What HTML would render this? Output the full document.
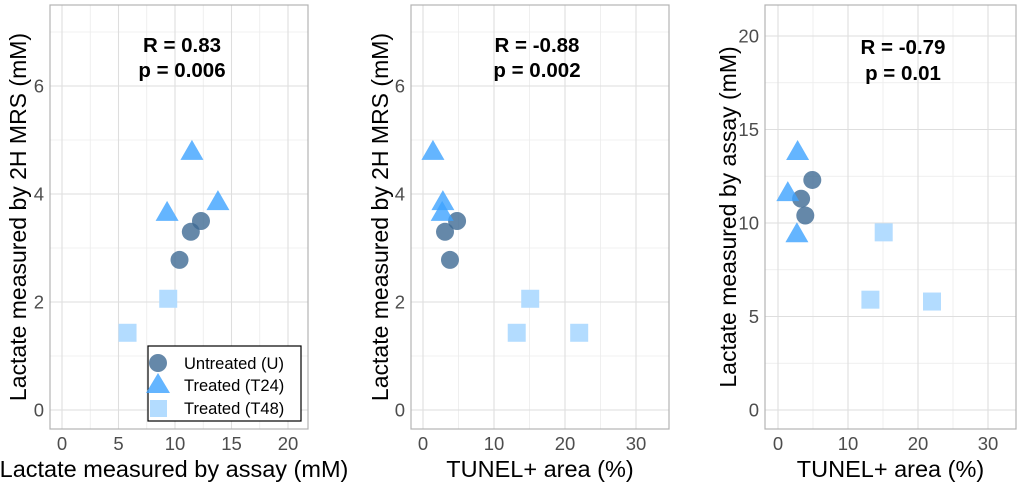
<!DOCTYPE html>
<html><head><meta charset="utf-8">
<style>
body{margin:0;background:#fff;width:1028px;height:487px;overflow:hidden;font-family:"Liberation Sans",sans-serif}
svg text{font-family:"Liberation Sans",sans-serif}
</style></head><body>
<svg id="chart" width="1028" height="487"></svg>
<script>
// Panel 1: lactate assay vs 2H MRS
const p1U_x=[10.4,11.4,12.3], p1U_y=[2.78,3.3,3.5];
const p1T24_x=[9.3,11.5,13.8], p1T24_y=[3.65,4.78,3.85];
const p1T48_x=[5.8,9.4], p1T48_y=[1.43,2.06];
// Panel 2: TUNEL vs 2H MRS
const p2U_x=[3.1,3.8,4.8], p2U_y=[3.3,2.78,3.5];
const p2T24_x=[1.4,2.8,2.7], p2T24_y=[4.78,3.85,3.65];
const p2T48_x=[13.2,15.1,22.0], p2T48_y=[1.43,2.06,1.43];
// Panel 3: TUNEL vs assay
const p3U_x=[3.3,3.9,4.9], p3U_y=[11.3,10.4,12.3];
const p3T24_x=[1.4,2.8,2.7], p3T24_y=[11.6,13.8,9.4];
const p3T48_x=[13.2,15.1,22.0], p3T48_y=[5.9,9.5,5.8];
const ticks1x=[0,5,10,15,20], ticks2x=[0,10,20,30], ticksMRS=[0,2,4,6], ticksAssay=[0,5,10,15,20];
const stats=[["R = 0.83","p = 0.006"],["R = -0.88","p = 0.002"],["R = -0.79","p = 0.01"]];

const NS="http://www.w3.org/2000/svg";
const svg=document.getElementById('chart');
function mk(tag,attrs,parent){const e=document.createElementNS(NS,tag);for(const k in attrs)e.setAttribute(k,attrs[k]);(parent||svg).appendChild(e);return e;}

const panels=[
 {L:50,R:308,T:5,B:429,x0:62,xs:11.3,y0:410,ys:54,xt:ticks1x,xm:[2.5,7.5,12.5,17.5],yt:ticksMRS,ym:[1,3,5,7],
  xl:"Lactate measured by assay (mM)",yl:"Lactate measured by 2H MRS (mM)",ylx:18,s:stats[0],sx:182,sy:[52,77],
  U:[p1U_x,p1U_y],T24:[p1T24_x,p1T24_y],T48:[p1T48_x,p1T48_y]},
 {L:411,R:669,T:5,B:429,x0:423,xs:7.1,y0:410,ys:54,xt:ticks2x,xm:[5,15,25],yt:ticksMRS,ym:[1,3,5,7],
  xl:"TUNEL+ area (%)",yl:"Lactate measured by 2H MRS (mM)",ylx:380,s:stats[1],sx:537,sy:[52,77],
  U:[p2U_x,p2U_y],T24:[p2T24_x,p2T24_y],T48:[p2T48_x,p2T48_y]},
 {L:765,R:1016,T:5,B:429,x0:778,xs:7.0,y0:410,ys:18.7,xt:ticks2x,xm:[5,15,25],yt:ticksAssay,ym:[2.5,7.5,12.5,17.5],
  xl:"TUNEL+ area (%)",yl:"Lactate measured by assay (mM)",ylx:728,s:stats[2],sx:903,sy:[54,80],
  U:[p3U_x,p3U_y],T24:[p3T24_x,p3T24_y],T48:[p3T48_x,p3T48_y]}
];

panels.forEach((p,i)=>{
  const g=mk('g',{});
  
  
  const X=v=>p.x0+v*p.xs, Y=v=>p.y0-v*p.ys;
  p.xm.forEach(v=>mk('line',{x1:X(v),x2:X(v),y1:p.T,y2:p.B,stroke:'#ebebeb','stroke-width':0.8},g));
  p.ym.forEach(v=>mk('line',{x1:p.L,x2:p.R,y1:Y(v),y2:Y(v),stroke:'#ebebeb','stroke-width':0.8},g));
  p.xt.forEach(v=>{mk('line',{x1:X(v),x2:X(v),y1:p.T,y2:p.B,stroke:'#dedede','stroke-width':1.1},g);
    const t=mk('text',{x:X(v),y:p.B+21,'text-anchor':'middle','font-size':18.5,fill:'#4d4d4d'},g);t.textContent=v;
    });
  p.yt.forEach(v=>{mk('line',{x1:p.L,x2:p.R,y1:Y(v),y2:Y(v),stroke:'#dedede','stroke-width':1.1},g);
    const t=mk('text',{x:p.L-6,y:Y(v)+6.5,'text-anchor':'end','font-size':18.5,fill:'#4d4d4d'},g);t.textContent=v;
    });
  mk('rect',{x:p.L,y:p.T,width:p.R-p.L,height:p.B-p.T,fill:'none',stroke:'#b3b3b3','stroke-width':1.2},g);
  const xl=mk('text',{x:(p.L+p.R)/2+(i==0?-5:0),y:477,'text-anchor':'middle','font-size':23.5,fill:'#000'},g);xl.textContent=p.xl;
  
  const yl=mk('text',{x:0,y:0,'text-anchor':'middle','font-size':23,fill:'#000',transform:`translate(${p.ylx+8},${(p.T+p.B)/2}) rotate(-90)`},g);yl.textContent=p.yl;
  
  p.s.forEach((s,k)=>{const t=mk('text',{x:p.sx,y:p.sy[k],'text-anchor':'middle','font-size':20.5,'font-weight':'bold',fill:'#000'},g);t.textContent=s;
    });
  p.T48[0].forEach((v,j)=>{const r=mk('rect',{x:X(v)-9,y:Y(p.T48[1][j])-9,width:18,height:18,fill:'#b3dcff'},g);
    });
  p.U[0].forEach((v,j)=>{const c=mk('circle',{cx:X(v),cy:Y(p.U[1][j]),r:9,fill:'#3f6a93','fill-opacity':0.8},g);
    });
  p.T24[0].forEach((v,j)=>{const cx=X(v),cy=Y(p.T24[1][j]);
    const t=mk('polygon',{points:`${cx},${cy-12} ${cx-11.5},${cy+8} ${cx+11.5},${cy+8}`,fill:'#3da2ff','fill-opacity':0.8},g);
    });
});

// legend
const lg=mk('g',{});


mk('rect',{x:148,y:346,width:153,height:75,fill:'#fff',stroke:'#000','stroke-width':1.2},lg);
mk('circle',{cx:158,cy:363,r:9,fill:'#3f6a93','fill-opacity':0.8},lg);
mk('polygon',{points:'158,373 146,393 170,393',fill:'#3da2ff','fill-opacity':0.8},lg);
mk('rect',{x:150,y:400,width:17,height:17,fill:'#b3dcff'},lg);
[["Untreated  (U)",369],["Treated  (T24)",391],["Treated  (T48)",414]].forEach(([s,y])=>{
  const t=mk('text',{x:184,y:y,'font-size':16.5,fill:'#000','xml:space':'preserve'},lg);t.textContent=s;
  });
</script>
</body></html>
